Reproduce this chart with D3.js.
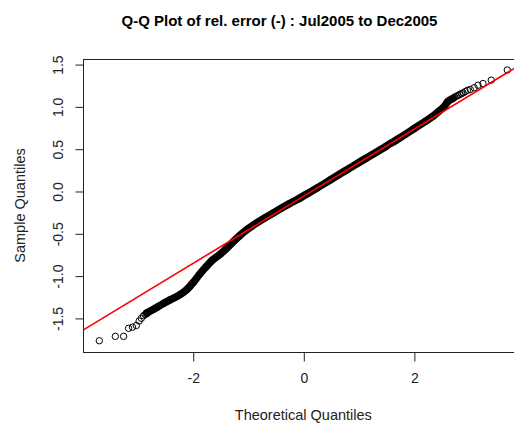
<!DOCTYPE html>
<html><head><meta charset="utf-8">
<script src="https://cdn.jsdelivr.net/npm/d3@7"></script>
<style>html,body{margin:0;padding:0;background:#fff;}svg{display:block;font-family:"Liberation Sans",Arial,Helvetica,sans-serif;}</style>
</head><body>
<svg id="chart" width="514" height="423"></svg>
<script>
// ---- data ----
const title = "Q-Q Plot of rel. error (-) : Jul2005 to Dec2005";
const xLabel = "Theoretical Quantiles";
const yLabel = "Sample Quantiles";
const xTicks = [-2, 0, 2];
const xTickLabels = ["-2", "0", "2"];
const yTicks = [-1.5, -1.0, -0.5, 0.0, 0.5, 1.0, 1.5];
const yTickLabels = ["-1.5", "-1.0", "-0.5", "0.0", "0.5", "1.0", "1.5"];
const xDomain = [-3.985, 3.985];
const yDomain = [-1.903, 1.56];

// sparse lower tail (individual circles)
const lowTailTheoretical = [-3.69, -3.40, -3.25, -3.16, -3.09, -3.02, -2.97, -2.93, -2.89, -2.86, -2.83];
const lowTailSample      = [-1.77, -1.718, -1.718, -1.623, -1.61, -1.59, -1.537, -1.505, -1.474, -1.46, -1.45];

// dense body (overlapping circles forming a solid band)
const bodyTheoretical = [-2.83, -2.70, -2.53, -2.40, -2.23, -2.10, -1.99, -1.87, -1.75, -1.65, -1.50, -1.40, -1.30, -1.15, -1.00, -0.85, -0.70, -0.55, -0.40, -0.25, -0.10, 0.00, 0.25, 0.50, 0.75, 1.00, 1.25, 1.50, 1.75, 2.00, 2.20, 2.35, 2.45, 2.55, 2.62, 2.70];
const bodySample      = [-1.44, -1.395, -1.33, -1.285, -1.225, -1.16, -1.08, -0.98, -0.89, -0.82, -0.745, -0.685, -0.62, -0.528, -0.447, -0.38, -0.32, -0.262, -0.205, -0.15, -0.098, -0.06, 0.035, 0.135, 0.235, 0.335, 0.43, 0.53, 0.63, 0.735, 0.82, 0.885, 0.94, 1.00, 1.06, 1.09];

// sparse upper tail (individual circles)
const highTailTheoretical = [2.72, 2.74, 2.77, 2.80, 2.83, 2.86, 2.89, 2.93, 2.97, 3.02, 3.09, 3.16, 3.25, 3.40, 3.69];
const highTailSample      = [1.10, 1.11, 1.12, 1.13, 1.14, 1.15, 1.16, 1.175, 1.19, 1.20, 1.22, 1.25, 1.27, 1.31, 1.43];

// reference line (qqline)
const lineIntercept = -0.065;
const lineSlope = 0.3965;

// ---- drawing ----
const svg = d3.select("#chart");
const plot = {left: 83, top: 59, right: 523.6, bottom: 352};
const x = d3.scaleLinear().domain(xDomain).range([plot.left, plot.right]);
const y = d3.scaleLinear().domain(yDomain).range([plot.bottom, plot.top]);

svg.append("defs").append("clipPath").attr("id", "clip")
  .append("rect").attr("x", plot.left).attr("y", plot.top)
  .attr("width", plot.right - plot.left).attr("height", plot.bottom - plot.top);

const g = svg.append("g").attr("clip-path", "url(#clip)");

const body = bodyTheoretical.map((t, i) => [t, bodySample[i]]);
const tails = lowTailTheoretical.map((t, i) => [t, lowTailSample[i]])
  .concat(highTailTheoretical.map((t, i) => [t, highTailSample[i]]));

g.append("path")
  .datum(body)
  .attr("fill", "none")
  .attr("stroke", "#000")
  .attr("stroke-width", 7.6)
  .attr("stroke-linecap", "round")
  .attr("stroke-linejoin", "round")
  .attr("d", d3.line().x(d => x(d[0])).y(d => y(d[1])).curve(d3.curveMonotoneX));

g.selectAll("circle.pt")
  .data(tails.concat(body))
  .join("circle")
  .attr("class", "pt")
  .attr("cx", d => x(d[0]))
  .attr("cy", d => y(d[1]))
  .attr("r", 3.2)
  .attr("fill", "none")
  .attr("stroke", "#000")
  .attr("stroke-width", 1);

g.append("line")
  .attr("x1", x(xDomain[0])).attr("y1", y(lineIntercept + lineSlope * xDomain[0]))
  .attr("x2", x(xDomain[1])).attr("y2", y(lineIntercept + lineSlope * xDomain[1]))
  .attr("stroke", "#ff0000")
  .attr("stroke-width", 1.6);

// box
svg.append("rect")
  .attr("x", plot.left + 0.5).attr("y", plot.top + 0.5)
  .attr("width", plot.right - plot.left).attr("height", plot.bottom - plot.top)
  .attr("fill", "none").attr("stroke", "#222").attr("stroke-width", 1);

// axes
const xAxis = d3.axisBottom(x).tickValues(xTicks)
  .tickFormat((d, i) => xTickLabels[i]).tickSize(9).tickPadding(12);
const xg = svg.append("g").attr("transform", `translate(0.5,${plot.bottom + 0.5})`).call(xAxis);
xg.select(".domain").remove();
xg.selectAll("text").attr("font-size", 14).attr("fill", "#222").attr("font-family", "Liberation Sans, Arial, sans-serif");
xg.selectAll("line").attr("stroke", "#222");

const yAxis = d3.axisLeft(y).tickValues(yTicks)
  .tickFormat((d, i) => yTickLabels[i]).tickSize(8).tickPadding(0);
const yg = svg.append("g").attr("transform", `translate(${plot.left + 0.5},0.5)`).call(yAxis);
yg.select(".domain").remove();
yg.selectAll("line").attr("stroke", "#222");
yg.selectAll("text")
  .attr("font-size", 14).attr("fill", "#222").attr("font-family", "Liberation Sans, Arial, sans-serif")
  .attr("x", null).attr("dy", null)
  .attr("text-anchor", "middle")
  .attr("transform", d => `translate(-25,0) rotate(-90)`)
  .attr("dy", "0.35em");

// titles
svg.append("text")
  .attr("x", 279.5).attr("y", 26)
  .attr("text-anchor", "middle")
  .attr("font-size", 15).attr("font-weight", "bold").attr("fill", "#000")
  .text(title);

svg.append("text")
  .attr("x", x(0)).attr("y", 420)
  .attr("text-anchor", "middle")
  .attr("font-size", 14.5).attr("fill", "#222")
  .text(xLabel);

svg.append("text")
  .attr("transform", `translate(25,${(plot.top + plot.bottom) / 2}) rotate(-90)`)
  .attr("text-anchor", "middle")
  .attr("font-size", 14.5).attr("fill", "#222")
  .text(yLabel);
</script>
</body></html>
